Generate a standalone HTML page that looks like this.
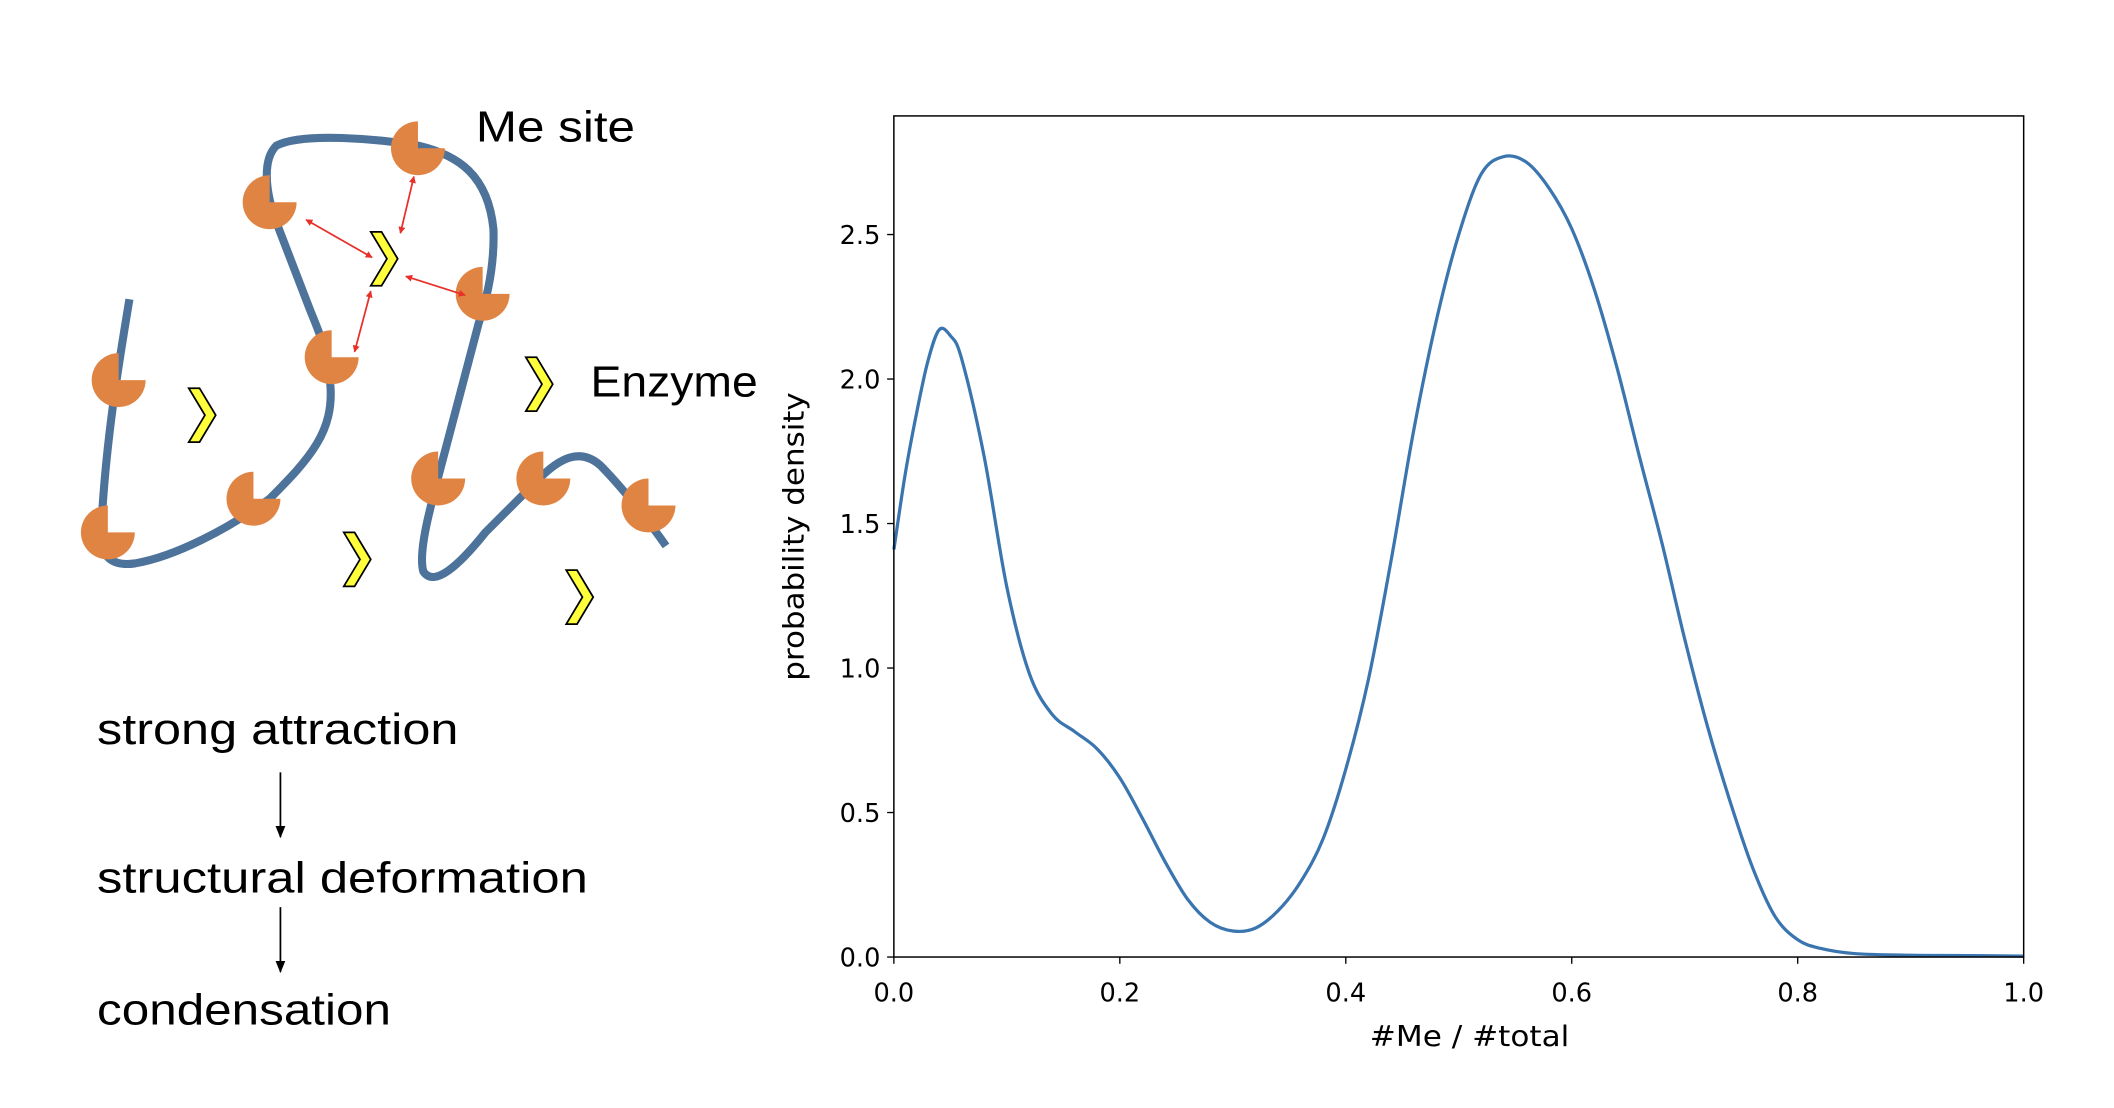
<!DOCTYPE html>
<html><head><meta charset="utf-8"><style>
html,body{margin:0;padding:0;background:#fff;}
svg{display:block;}
</style></head><body>
<svg id="fig" width="2114" height="1108" viewBox="0 0 1568 822" preserveAspectRatio="none" xmlns="http://www.w3.org/2000/svg">
<defs>
<marker id="ah" viewBox="0 0 10 10" refX="9" refY="5" markerWidth="4" markerHeight="4" orient="auto-start-reverse"><path d="M0,0 L10,5 L0,10 z" fill="#e8302a"/></marker>
<marker id="bh" viewBox="0 0 10 10" refX="9" refY="5" markerWidth="7" markerHeight="7" orient="auto"><path d="M0,1 L10,5 L0,9 z" fill="#000"/></marker>
</defs>
<g>
<path d="M96,222 C88,270 78,330 75,395 C74,415 85,420 100,418 C130,413 170,392 200,370 C230,340 248,320 245,285 C244,262 236,245 230,230 L205,165 C196,140 195,118 205,108 C225,98 280,103 310,108 C340,115 362,130 366,170 C367,200 360,225 355,240 L330,335 C318,380 310,410 314,424 C322,436 340,420 360,395 L400,355 C415,340 430,332 445,345 C460,360 480,385 494,405" fill="none" stroke="#4e739b" stroke-width="6" stroke-linecap="butt"/>
<g id="sites" fill="#e08444"></g>
<g id="enz"></g>
<g stroke="#e8302a" stroke-width="1.3">
<line x1="227" y1="163" x2="276" y2="191" marker-start="url(#ah)" marker-end="url(#ah)"/>
<line x1="307" y1="131" x2="297" y2="173" marker-start="url(#ah)" marker-end="url(#ah)"/>
<line x1="301" y1="205" x2="345" y2="219" marker-start="url(#ah)" marker-end="url(#ah)"/>
<line x1="275" y1="216" x2="263" y2="261" marker-start="url(#ah)" marker-end="url(#ah)"/>
</g>
<text x="353" y="105" font-family="Liberation Sans, sans-serif" font-size="32" textLength="118" lengthAdjust="spacingAndGlyphs">Me site</text>
<text x="438" y="294" font-family="Liberation Sans, sans-serif" font-size="32" textLength="124" lengthAdjust="spacingAndGlyphs">Enzyme</text>
<text x="72" y="552" font-family="Liberation Sans, sans-serif" font-size="32" textLength="268" lengthAdjust="spacingAndGlyphs">strong attraction</text>
<line x1="208" y1="573" x2="208" y2="621" stroke="#000" stroke-width="1.3" marker-end="url(#bh)"/>
<text x="72" y="662" font-family="Liberation Sans, sans-serif" font-size="32" textLength="364" lengthAdjust="spacingAndGlyphs">structural deformation</text>
<line x1="208" y1="673" x2="208" y2="721" stroke="#000" stroke-width="1.3" marker-end="url(#bh)"/>
<text x="72" y="760" font-family="Liberation Sans, sans-serif" font-size="32" textLength="218" lengthAdjust="spacingAndGlyphs">condensation</text>
</g>
<g id="chart"></g>
</svg>
<script>
const xs = [0,0.01,0.02,0.03,0.04,0.05,0.06,0.08,0.10,0.12,0.14,0.16,0.18,0.20,0.22,0.24,0.26,0.28,0.30,0.32,0.34,0.36,0.38,0.40,0.42,0.44,0.46,0.48,0.50,0.52,0.54,0.56,0.58,0.60,0.62,0.64,0.66,0.68,0.70,0.72,0.74,0.76,0.78,0.80,0.82,0.85,0.90,0.95,1.0];
const density = [1.41,1.67,1.88,2.06,2.17,2.15,2.07,1.73,1.28,0.98,0.84,0.78,0.72,0.62,0.48,0.33,0.2,0.12,0.09,0.10,0.16,0.26,0.41,0.65,0.96,1.37,1.82,2.20,2.50,2.71,2.77,2.75,2.66,2.52,2.31,2.04,1.73,1.43,1.1,0.8,0.54,0.31,0.14,0.06,0.03,0.012,0.006,0.005,0.003];
const xTicks = [0,0.2,0.4,0.6,0.8,1.0];
const xTickLabels = ["0.0","0.2","0.4","0.6","0.8","1.0"];
const yTicks = [0,0.5,1.0,1.5,2.0,2.5];
const yTickLabels = ["0.0","0.5","1.0","1.5","2.0","2.5"];
const NS="http://www.w3.org/2000/svg";
const L=663,R=1501,T=86,B=710,YMAX=(710-86)/214.4;
const sx=v=>L+(R-L)*v, sy=v=>B-(B-T)*v/YMAX;
function mk(tag,attrs,parent){const e=document.createElementNS(NS,tag);for(const k in attrs)e.setAttribute(k,attrs[k]);parent.appendChild(e);return e;}
const ch=document.getElementById('chart');
const P=xs.map((x,i)=>[sx(x),sy(density[i])]);
let d='M'+P[0][0].toFixed(2)+','+P[0][1].toFixed(2);
for(let i=0;i<P.length-1;i++){
 const p0=P[Math.max(0,i-1)],p1=P[i],p2=P[i+1],p3=P[Math.min(P.length-1,i+2)];
 const c1=[p1[0]+(p2[0]-p0[0])/6,p1[1]+(p2[1]-p0[1])/6];
 const c2=[p2[0]-(p3[0]-p1[0])/6,p2[1]-(p3[1]-p1[1])/6];
 d+=` C${c1[0].toFixed(2)},${c1[1].toFixed(2)} ${c2[0].toFixed(2)},${c2[1].toFixed(2)} ${p2[0].toFixed(2)},${p2[1].toFixed(2)}`;
}
const line=mk('path',{d:d,fill:'none',stroke:'#3a75b0','stroke-width':2.4,'stroke-linejoin':'round'},ch);


const frame=mk('rect',{x:L,y:T,width:R-L,height:B-T,fill:'none',stroke:'#000','stroke-width':1.1},ch);


xTicks.forEach((v,i)=>{
 const t=mk('line',{x1:sx(v),x2:sx(v),y1:B,y2:B+5,stroke:'#000','stroke-width':1},ch);
 
 
 const tx=mk('text',{x:sx(v),y:B+33,'text-anchor':'middle','font-family':'DejaVu Sans, sans-serif','font-size':19},ch);
 tx.textContent=xTickLabels[i];
 
 
});
yTicks.forEach((v,i)=>{
 const t=mk('line',{x1:L-5,x2:L,y1:sy(v),y2:sy(v),stroke:'#000','stroke-width':1},ch);
 
 
 const tx=mk('text',{x:L-10,y:sy(v)+7,'text-anchor':'end','font-family':'DejaVu Sans, sans-serif','font-size':19},ch);
 tx.textContent=yTickLabels[i];
 
 
});
const xl=mk('text',{x:(L+R)/2-66,y:776,'font-family':'DejaVu Sans, sans-serif','font-size':21,textLength:148,lengthAdjust:'spacingAndGlyphs'},ch);
xl.textContent='#Me / #total';


const yl=mk('text',{x:-107,y:0,'font-family':'DejaVu Sans, sans-serif','font-size':21,textLength:214,lengthAdjust:'spacingAndGlyphs',transform:'translate(596,398) rotate(-90)'},ch);
yl.textContent='probability density';


const sites=[[200,150],[310,110],[358,218],[246,265],[88,282],[188,370],[80,395],[325,355],[403,355],[481,375]];
const sg=document.getElementById('sites');
sites.forEach(([cx,cy])=>{const r=20;
 const p=mk('path',{d:`M${cx},${cy} L${cx},${cy-r} A${r},${r} 0 1 0 ${cx+r},${cy} Z`},sg);
 
 
});
const enz=[[150,308],[285,192],[400,285],[265,415],[430,443]];
const eg=document.getElementById('enz');
enz.forEach(([cx,cy])=>{
 const pts=[[-10,-20],[-2,-20],[10,0],[-2,20],[-10,20],[2,0]].map(([a,b])=>(cx+a)+','+(cy+b)).join(' ');
 const p=mk('polygon',{points:pts,fill:'#ffff3c',stroke:'#000','stroke-width':1.3},eg);
 
 
});
</script>
</body></html>
